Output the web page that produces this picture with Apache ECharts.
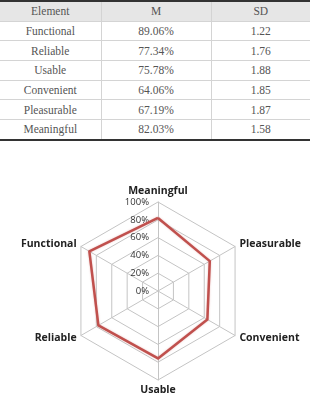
<!DOCTYPE html>
<html lang="en">
<head>
    <meta charset="UTF-8">
    <title>UX Elements</title>
    <script src="https://cdn.jsdelivr.net/npm/echarts/dist/echarts.min.js"></script>
    <style>
        body { margin: 0; background: #fff; }
        #wrap { position: relative; width: 310px; height: 403px; overflow: hidden; }
        #radarChart { position: absolute; left: 0; top: 0; width: 310px; height: 403px; }
        #tbl {
            position: absolute; left: 0; top: 0; width: 310px;
            border-collapse: collapse; table-layout: fixed;
            font-family: "Liberation Serif", "DejaVu Serif", serif;
            font-size: 11.5px; color: #555; z-index: 2; background: #fff;
            border-top: 2px solid #333; border-bottom: 2px solid #333;
        }
        #tbl th, #tbl td {
            height: 18.7px; padding: 0; text-align: center; font-weight: normal;
            border: 1px solid #d4d4d4;
        }
        #tbl tr:first-child th { border-top: none; }
        #tbl tr:last-child td { border-bottom: none; }
        #tbl th:first-child, #tbl td:first-child { border-left: none; }
        #tbl th:last-child, #tbl td:last-child { border-right: none; }
        #tbl th { background: #e6e6e6; }
    </style>
</head>
<body>
<div id="wrap">
    <div id="radarChart"></div>
    <table id="tbl"></table>
</div>

<script>
    // table data
    const headers = ['Element', 'M', 'SD'];
    const elements = ['Functional', 'Reliable', 'Usable', 'Convenient', 'Pleasurable', 'Meaningful'];
    const means = [89.06, 77.34, 75.78, 64.06, 67.19, 82.03];
    const sds = [1.22, 1.76, 1.88, 1.85, 1.87, 1.58];

    // radar axes, counter-clockwise starting at the top
    const radarOrder = ['Meaningful', 'Functional', 'Reliable', 'Usable', 'Convenient', 'Pleasurable'];
    const ticks = [0, 20, 40, 60, 80, 100];

    // build the table
    let tbl = document.getElementById('tbl');
    let html = '<colgroup><col style="width:101px"><col style="width:110px"><col style="width:99px"></colgroup>';
    html += '<tr>' + headers.map(h => `<th>${h}</th>`).join('') + '</tr>';
    elements.forEach((el, i) => {
        html += `<tr><td>${el}</td><td>${means[i].toFixed(2)}%</td><td>${sds[i].toFixed(2)}</td></tr>`;
    });
    tbl.innerHTML = html;

    // radar
    let chart = echarts.init(document.getElementById('radarChart'));
    let indicator = radarOrder.map((name, i) => {
        let ind = { name: name, min: ticks[0], max: ticks[ticks.length - 1] };
        if (i === 0) ind.axisLabel = { show: true };
        return ind;
    });
    let values = radarOrder.map(name => means[elements.indexOf(name)]);

    chart.setOption({
        animation: false,
        radar: {
            center: [158, 291],
            radius: 89,
            startAngle: 90,
            splitNumber: ticks.length - 1,
            nameGap: 5,
            axisName: {
                color: '#222',
                fontFamily: '"Open Sans", "DejaVu Sans", sans-serif',
                fontWeight: 700,
                fontSize: 10.5
            },
            axisLine: { lineStyle: { color: '#c4c4c4', width: 1 } },
            splitLine: { lineStyle: { color: '#c4c4c4', width: 1 } },
            splitArea: { show: false },
            axisTick: { show: false },
            axisLabel: {
                show: false,
                formatter: '{value}%',
                color: '#333',
                fontFamily: '"Open Sans", sans-serif',
                fontSize: 9.5,
                margin: 9
            },
            indicator: indicator
        },
        series: [{
            type: 'radar',
            symbol: 'none',
            lineStyle: { color: '#c0504d', width: 2.5, shadowColor: 'rgba(192,80,77,0.35)', shadowBlur: 2 },
            data: [{ value: values, name: 'M' }]
        }]
    });
</script>
</body>
</html>
